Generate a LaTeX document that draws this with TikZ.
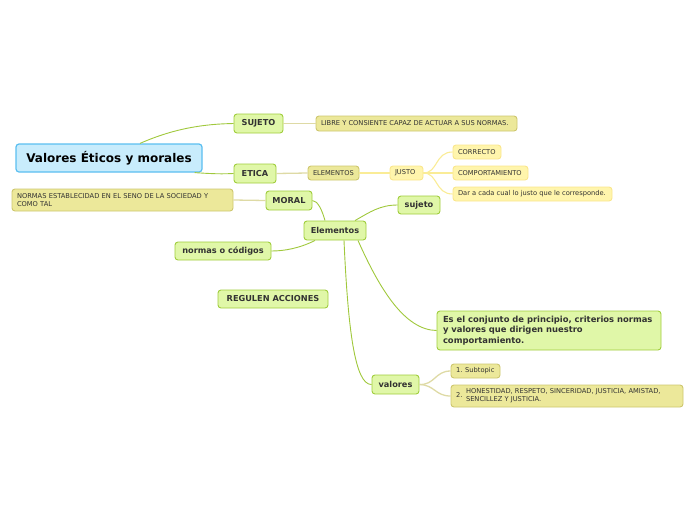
\documentclass[tikz,border=0pt]{standalone}
\usepackage{fontspec}
\setmainfont{DejaVu Sans}
\definecolor{gfill}{RGB}{224,247,168}
\definecolor{gdraw}{RGB}{160,205,60}
\definecolor{bfill}{RGB}{200,236,252}
\definecolor{bdraw}{RGB}{90,190,240}
\definecolor{kfill}{RGB}{236,232,154}
\definecolor{kdraw}{RGB}{205,198,110}
\definecolor{yfill}{RGB}{255,245,172}
\definecolor{ydraw}{RGB}{250,230,140}
\definecolor{gline}{RGB}{160,200,60}
\definecolor{kline}{RGB}{222,218,165}
\definecolor{yline}{RGB}{250,236,150}
\definecolor{txt}{RGB}{50,50,50}
\newcommand{\lbox}[2]{\makebox[#1pt][l]{#2}}
\tikzset{
  base/.style={rectangle, rounded corners=3pt, inner sep=0pt, text=txt, line width=0.9pt},
  mainbox/.style={base, fill=bfill, draw=bdraw, line width=1.2pt, font=\fontsize{12}{14}\selectfont\bfseries, text=black},
  gbox/.style={base, fill=gfill, draw=gdraw, font=\fontsize{8.2}{10}\selectfont\bfseries},
  kbox/.style={base, fill=kfill, draw=kdraw, inner xsep=5pt, font=\fontsize{6.7}{8}\selectfont},
  ybox/.style={base, fill=yfill, draw=ydraw, inner xsep=5pt, font=\fontsize{6.7}{8}\selectfont},
  gconn/.style={draw=gline, line width=0.9pt},
  kconn/.style={draw=kline, line width=1.3pt},
  yconn/.style={draw=yline, line width=1.1pt},
}
\begin{document}
\begin{tikzpicture}[x=1pt,y=-1pt]
\useasboundingbox (0,0) rectangle (696,520);
% nodes
\node[mainbox, minimum width=186, minimum height=28] (main) at (109,158) {Valores Éticos y morales};
\node[gbox, minimum width=49, minimum height=19] (sujetoU) at (258.5,123.5) {SUJETO};
\node[kbox, minimum height=15] (libre) at (416.5,123.5) {\lbox{191}{LIBRE Y CONSIENTE CAPAZ DE ACTUAR A SUS NORMAS.}};
\node[gbox, minimum width=42, minimum height=19] (etica) at (255,173.5) {ETICA};
\node[kbox, minimum height=14] (elem) at (333.5,173) {\lbox{41}{ELEMENTOS}};
\node[ybox, minimum height=14] (justo) at (406.5,173) {\lbox{23}{JUSTO}};
\node[ybox, minimum height=14] (correcto) at (477,152) {\lbox{38}{CORRECTO}};
\node[ybox, minimum height=14] (comport) at (490.5,173) {\lbox{65}{COMPORTAMIENTO}};
\node[ybox, minimum height=14] (dar) at (532.5,194) {\lbox{149}{Dar a cada cual lo justo que le corresponde.}};
\node[gbox, minimum width=46, minimum height=19] (moral) at (289,200.5) {MORAL};
\node[kbox, minimum height=22, text width=211, align=left] (normas) at (122.5,200) {NORMAS ESTABLECIDAD EN EL SENO DE LA SOCIEDAD Y\\COMO TAL};
\node[gbox, minimum width=62, minimum height=19] (elementos) at (335,230.5) {Elementos};
\node[gbox, minimum width=42, minimum height=18] (sujeto) at (419,205) {sujeto};
\node[gbox, minimum width=96, minimum height=18] (codigos) at (223,251) {normas o códigos};
\node[gbox, minimum width=110, minimum height=18] (regulen) at (273,299) {REGULEN ACCIONES};
\node[gbox, minimum width=224, minimum height=39, inner xsep=6pt, align=left, font=\fontsize{8.4}{10.3}\selectfont\bfseries] (esel) at (549,330.5) {\lbox{212}{Es el conjunto de principio, criterios normas}\\y valores que dirigen nuestro\\comportamiento.};
\node[gbox, minimum width=47, minimum height=19] (valores) at (395.5,384.5) {valores};
\node[kbox, minimum height=14] (sub) at (475.5,371) {\lbox{39}{1. Subtopic}};
\node[kbox, minimum height=22] (hon) at (567,396) {\makebox[10pt][l]{2.}\parbox[c]{212pt}{\baselineskip=8pt HONESTIDAD, RESPETO, SINCERIDAD, JUSTICIA, AMISTAD,\\SENCILLEZ Y JUSTICIA.}};
% connectors
\draw[gconn] ([xshift=31pt]main.north) .. controls (175,128) and (205,124) .. (sujetoU.west);
\draw[gconn] ([xshift=-8pt]main.south east) .. controls (215,174) and (222,174) .. (etica.west);
\draw[kconn] (sujetoU.east) -- (libre.west);
\draw[kconn] (etica.east) -- (elem.west);
\draw[yconn] (elem.east) -- (justo.west);
\draw[yconn] (justo.east) .. controls (438,173) and (435,152) .. (correcto.west);
\draw[yconn] (justo.east) -- (comport.west);
\draw[yconn] (justo.east) .. controls (438,173) and (435,194) .. (dar.west);
\draw[kconn] (moral.west) -- (normas.east);
\draw[gconn] (moral.east) .. controls (318,201) and (322,210) .. ([xshift=-10pt]elementos.north);
\draw[gconn] ([xshift=20pt]elementos.north) .. controls (370,212) and (380,205) .. (sujeto.west);
\draw[gconn] ([xshift=-20pt]elementos.south) .. controls (300,248) and (285,251) .. (codigos.east);
\draw[gconn] ([xshift=23pt]elementos.south) .. controls (380,290) and (405,330) .. (esel.west);
\draw[gconn] ([xshift=9pt]elementos.south) .. controls (348,330) and (355,385) .. (valores.west);
\draw[kconn] (valores.east) .. controls (435,385) and (435,371) .. (sub.west);
\draw[kconn] (valores.east) .. controls (435,385) and (435,396) .. (hon.west);
\end{tikzpicture}
\end{document}
